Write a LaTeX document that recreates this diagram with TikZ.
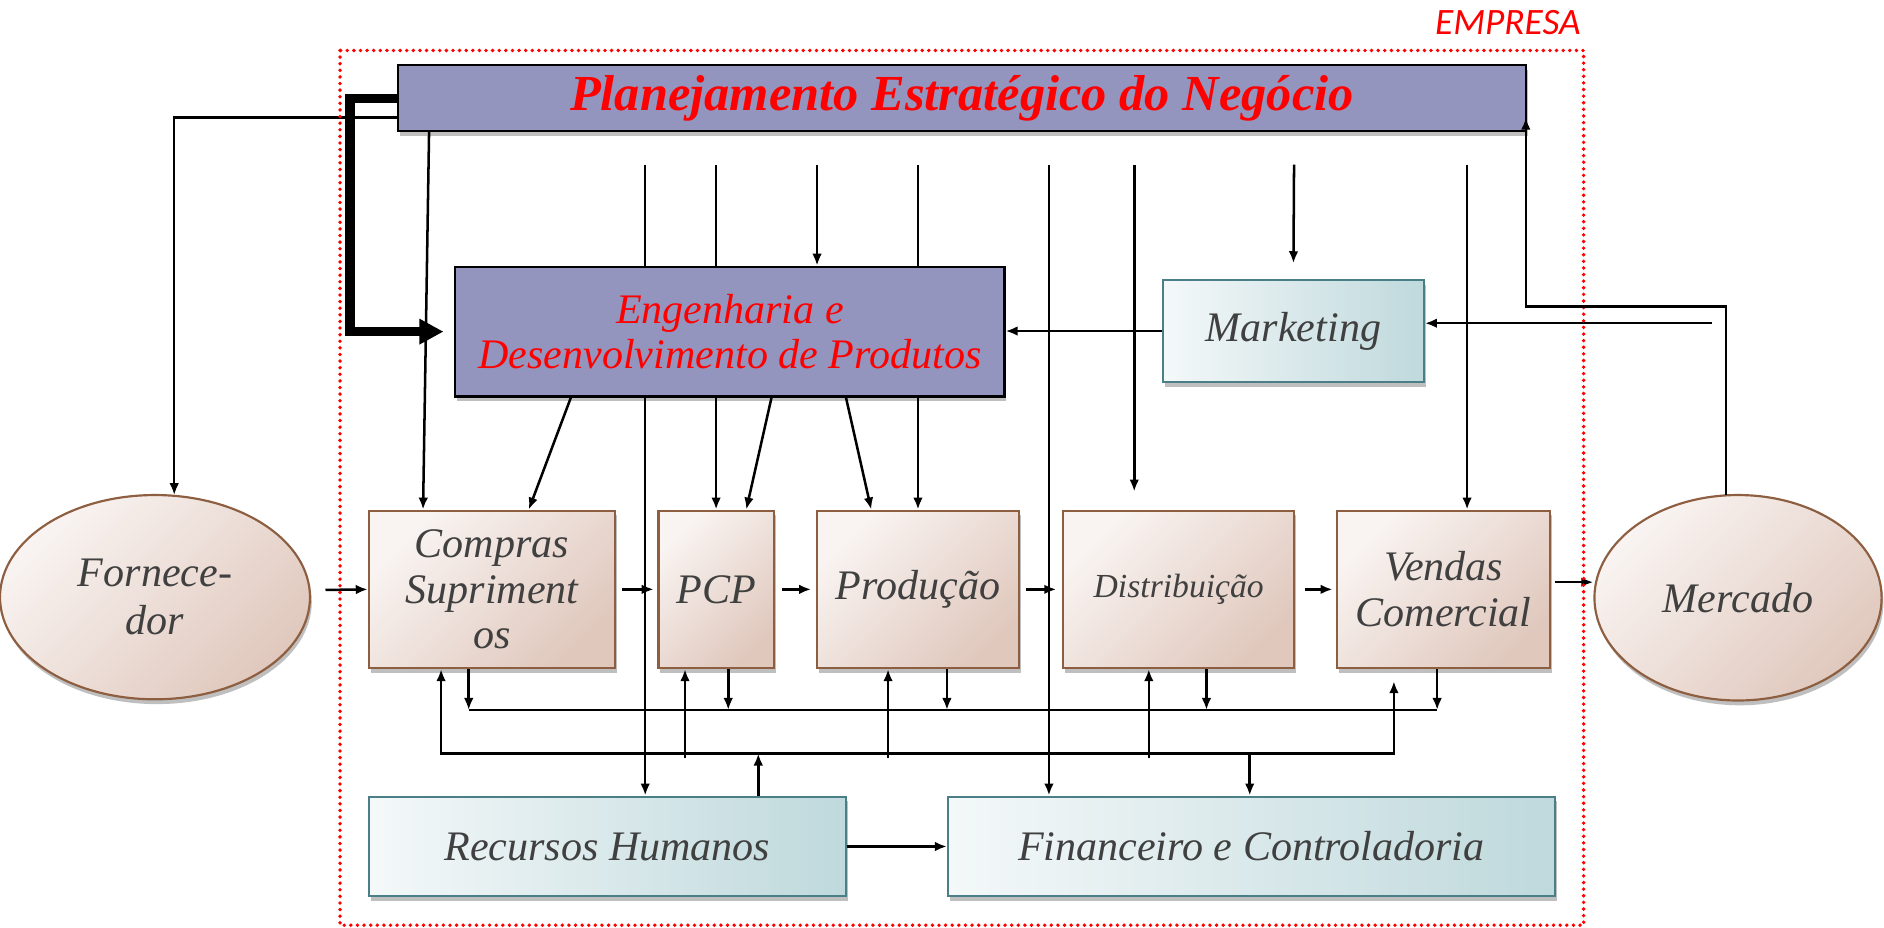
\documentclass[tikz,border=0pt]{standalone}
\usepackage{fontspec}
\setmainfont{Liberation Serif}
\newfontfamily\calibrifont{Carlito}
\usetikzlibrary{arrows.meta,shadows,calc,shapes.geometric}
\pgfdeclarelayer{background}
\pgfsetlayers{background,main}
\definecolor{lav}{HTML}{9395BE}
\definecolor{txtgray}{HTML}{404040}
\definecolor{brL}{HTML}{F9F4F2}
\definecolor{brD}{HTML}{E0C8BD}
\definecolor{brB}{HTML}{8E5E40}
\definecolor{tlL}{HTML}{F4F8F9}
\definecolor{tlD}{HTML}{BFD9DC}
\definecolor{tlB}{HTML}{4A7F87}
\tikzset{
  >={Latex[length=10pt,width=8pt]},
  ln/.style={line width=2.1pt, draw=black},
  arr/.style={ln, ->},
  shad/.style={drop shadow={shadow xshift=1.5pt, shadow yshift=-4pt, opacity=0.25, fill=black}},
  planbox/.style={draw=black, line width=1.8pt, fill=lav, inner sep=0pt, shad},
  brbox/.style={draw=brB, line width=1.8pt, top color=brL, bottom color=brD, shading angle=45,
    inner sep=0pt, align=center, text=txtgray, font=\itshape\fontsize{35}{38}\selectfont, shad},
  brell/.style={brbox, ellipse},
  tlbox/.style={draw=tlB, line width=1.8pt, left color=tlL, right color=tlD,
    inner sep=0pt, align=center, text=txtgray, font=\itshape\fontsize{35}{37}\selectfont, shad},
}
\begin{document}
\begin{tikzpicture}[x=1pt,y=-1pt]
\useasboundingbox (0,0) rectangle (1568,772);

% ---------- nodes ----------
\node[planbox, minimum width=939pt, minimum height=55pt] (plan) at (800.5,81.5)
  {\color{red}\bfseries\itshape\fontsize{42}{46}\selectfont Planejamento Estratégico do Negócio};
\node[planbox, minimum width=457pt, minimum height=108pt, align=center, text=red,
  font=\itshape\fontsize{35}{37}\selectfont] (eng) at (607.5,276)
  {Engenharia e\\Desenvolvimento de Produtos};
\node[tlbox, minimum width=217pt, minimum height=85pt] (mkt) at (1076.5,275.5) {Marketing};

\node[brbox, minimum width=205pt, minimum height=131pt] (comp) at (409.5,490.5) {Compras\\Supriment\\os};
\node[brbox, minimum width=96pt, minimum height=131pt] (pcp) at (596,490.5) {PCP};
\node[brbox, minimum width=168pt, minimum height=131pt] (prod) at (764,490.5) {Produção};
\node[brbox, minimum width=192pt, minimum height=131pt, font=\itshape\fontsize{28}{32}\selectfont] (dist) at (981,490.5) {Distribuição};
\node[brbox, minimum width=177pt, minimum height=131pt] (vend) at (1201.5,490.5) {Vendas\\Comercial};

\node[brell, minimum width=258pt, minimum height=170pt, font=\itshape\fontsize{35}{40}\selectfont] (forn) at (129,497) {Fornece-\\dor};
\node[brell, minimum width=239pt, minimum height=171pt] (merc) at (1446.5,497.5) {Mercado};

\node[tlbox, minimum width=397pt, minimum height=83pt] (rh) at (505.5,704.5) {Recursos Humanos};
\node[tlbox, minimum width=505pt, minimum height=83pt] (fin) at (1041.5,704.5) {Financeiro e Controladoria};

\node[text=red, font=\calibrifont\itshape\fontsize{31}{34}\selectfont] (emp) at (1255,19) {EMPRESA};
\draw[red, line width=3.2pt, dash pattern=on 0pt off 5.5pt, line cap=round] (283,42) rectangle (1318,770);

% arrow from Mercado ends inside the Planejamento box (drawn on top)
\draw[arr] ($(merc.north)+(-10,1)$) |- ($(plan.south east)+(-1,145)$) -- ($(plan.south east)+(-1,-12)$);

% ---------- connectors ----------
\begin{pgfonlayer}{background}
\coordinate (t1) at (537,137);
\coordinate (t2) at (596,137);
\coordinate (t3) at (680,137);
\coordinate (t4) at (764,137);
\coordinate (t5) at (873,137);
\coordinate (t6) at (944,137);
\coordinate (t7) at (1077,137);
\coordinate (t8) at (1221,137);
\coordinate (mkin) at (1425,269);

\draw[arr] (t1) -- (t1 |- rh.north);
\draw[ln] (t2) -- (t2 |- eng.north);
\draw[arr] (t2 |- eng.south) -- (pcp.north);
\draw[arr] (t3) -- (t3 |- eng.north);
\draw[ln] (t4) -- (t4 |- eng.north);
\draw[arr] (t4 |- eng.south) -- (prod.north);
\draw[arr] (t5) -- (t5 |- fin.north);
\draw[arr] (t6) -- ($(t6 |- dist.north)+(0,-15)$);
\draw[arr] (t7) -- ($(mkt.north)+(0,-13)$);
\draw[arr] (t8) -- (t8 |- vend.north);

% slanted from Engenharia
\draw[arr] ($(eng.south west)+(97,0)$) -- ($(comp.north west)+(134,0)$);
\draw[arr] ($(eng.south west)+(264,0)$) -- ($(pcp.north west)+(74,0)$);
\draw[arr] ($(eng.south west)+(326,0)$) -- ($(prod.north west)+(46,0)$);

% from Planejamento
\draw[arr] ($(plan.south west)+(27,0)$) -- ($(comp.north west)+(46,0)$);
\draw[line width=8pt, -{Triangle[length=20pt,width=20pt]}, shorten >=9pt]
  ($(plan.west)+(0,0.5)$) -| ($(eng.west)+(-87,0)$) -- (eng.west);
\draw[arr] ($(plan.south west)+(0,-12)$) -| ($(forn.north)+(16,1)$);

% Marketing
\draw[arr] (mkt.west) -- (mkt.west -| eng.east);
\draw[arr] (mkin) -- (mkin -| mkt.east);

% main flow
\draw[arr] ($(forn.east)+(12,-6)$) -- (comp.west);
\draw[arr] ($(comp.east)+(5,0)$) -- ($(pcp.west)+(-3,0)$);
\draw[arr] ($(pcp.east)+(6,0)$) -- ($(prod.west)+(-4,0)$);
\draw[arr] ($(prod.east)+(5,0)$) -- ($(dist.west)+(-5,0)$);
\draw[arr] ($(dist.east)+(8,0)$) -- ($(vend.west)+(-3,0)$);
\coordinate (vo) at ($(vend.east)+(3,-6)$);
\draw[arr] (vo) -- (vo -| merc.west);

% bus 1
\draw[ln] ($(comp.south west)+(84,34)$) -- ($(vend.south west)+(84,34)$);
\foreach \n/\o in {comp/84, pcp/59, prod/109, dist/120, vend/84}
  \draw[arr] ($(\n.south west)+(\o,0)$) -- ++(0,34);

% bus 2
\draw[ln, <->] ($(comp.south west)+(61,0)$) -- ++(0,70) -| ($(vend.south west)+(48,10)$);
\foreach \n/\o in {pcp/23, prod/60, dist/72}
  \draw[arr] ($(\n.south west)+(\o,74)$) -- ++(0,-74);

% RH / Financeiro
\draw[arr] ($(rh.north west)+(325,0)$) -- ++(0,-35);
\draw[arr] ($(fin.north west)+(252,-35)$) -- ++(0,35);
\draw[arr] (rh.east) -- (fin.west);
\end{pgfonlayer}
\end{tikzpicture}
\end{document}
